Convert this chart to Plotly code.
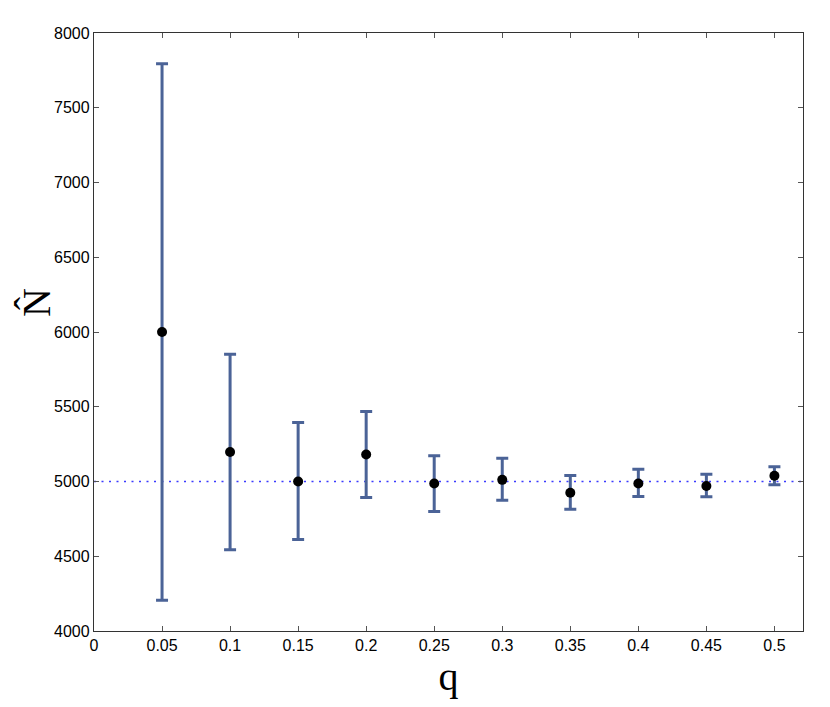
import plotly.graph_objects as go

q = [0.05, 0.1, 0.15, 0.2, 0.25, 0.3, 0.35, 0.4, 0.45, 0.5]
n_hat = [6000, 5197, 5000, 5181, 4987, 5011, 4925, 4987, 4970, 5038]
upper = [7795, 5851, 5395, 5468, 5173, 5156, 5040, 5082, 5048, 5098]
lower = [4205, 4543, 4612, 4893, 4800, 4874, 4815, 4900, 4898, 4978]
true_n = 5000

x_ticks = [0, 0.05, 0.1, 0.15, 0.2, 0.25, 0.3, 0.35, 0.4, 0.45, 0.5]
x_labels = ["0", "0.05", "0.1", "0.15", "0.2", "0.25", "0.3", "0.35", "0.4", "0.45", "0.5"]
y_ticks = [4000, 4500, 5000, 5500, 6000, 6500, 7000, 7500, 8000]

err_plus = [u - m for u, m in zip(upper, n_hat)]
err_minus = [m - l for m, l in zip(n_hat, lower)]

bar_color = "#4b6397"

fig = go.Figure()
fig.add_trace(go.Scatter(
    x=[0, 0.521], y=[true_n, true_n], mode="lines",
    line=dict(color="#3a3aff", width=1.5, dash="2px,5.5px"),
    hoverinfo="skip", showlegend=False,
))
fig.add_trace(go.Scatter(
    x=q, y=n_hat, mode="markers",
    marker=dict(color="black", size=10),
    error_y=dict(type="data", symmetric=False, array=err_plus, arrayminus=err_minus,
                 color=bar_color, thickness=3, width=6),
    showlegend=False,
))

axis_common = dict(
    showline=True, linecolor="#333333", linewidth=1.3, mirror="ticks",
    ticks="inside", ticklen=5, tickcolor="#555555", tickwidth=1.2,
    showgrid=False, zeroline=False,
    tickfont=dict(family="Liberation Sans, Arial, sans-serif", size=16, color="black"),
)

title_font = dict(family="Liberation Serif, Times New Roman, serif", size=40, color="black")

fig.update_layout(
    width=830, height=707,
    margin=dict(l=86, r=35, t=25, b=84),
    plot_bgcolor="white", paper_bgcolor="white",
    xaxis=dict(range=[0, 0.521], tickvals=x_ticks, ticktext=x_labels,
               title=dict(text="q", font=title_font, standoff=4),
               **axis_common),
    yaxis=dict(range=[4000, 8000], tickvals=y_ticks,
               **axis_common),
    annotations=[dict(
        text="N\u0302", xref="paper", yref="paper", x=-0.082, y=0.55,
        textangle=-90, showarrow=False, font=title_font,
        xanchor="center", yanchor="middle",
    )],
)

fig.write_html("out.html")
